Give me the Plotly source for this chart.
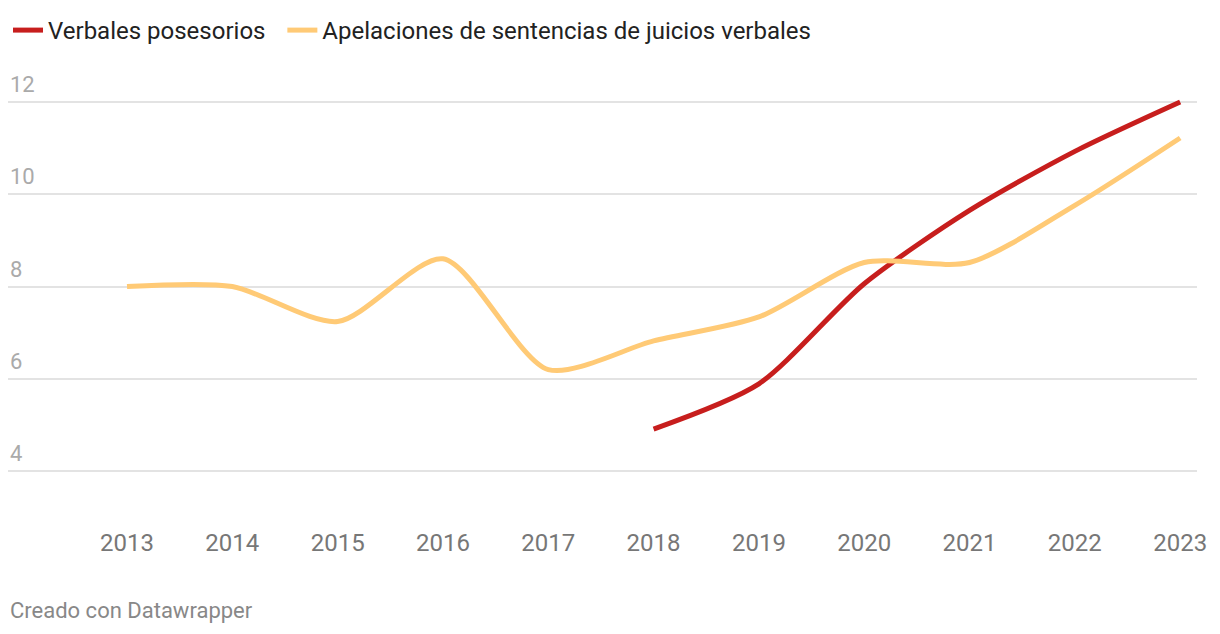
import plotly.graph_objects as go

years = [2013, 2014, 2015, 2016, 2017, 2018, 2019, 2020, 2021, 2022, 2023]
apelaciones = [8.0, 8.0, 7.24, 8.6, 6.2, 6.82, 7.34, 8.52, 8.52, 9.76, 11.22]
verbales_years = [2018, 2019, 2020, 2021, 2022, 2023]
verbales = [4.91, 5.89, 8.06, 9.65, 10.93, 12.0]
y_ticks = [4, 6, 8, 10, 12]

RED = "#c71e1d"
YELLOW = "#ffca76"
FONT = "Roboto"

W, H = 1220, 634
L, R, T, B = 0, 31, 77, 122
PW, PH = W - L - R, H - T - B

fig = go.Figure()
fig.add_trace(go.Scatter(
    x=verbales_years, y=verbales, name="Verbales posesorios\u00a0\u00a0", mode="lines",
    line=dict(color=RED, width=5, shape="spline", smoothing=0.75),
))
fig.add_trace(go.Scatter(
    x=years, y=apelaciones, name="Apelaciones de sentencias de juicios verbales", mode="lines",
    line=dict(color=YELLOW, width=5, shape="spline", smoothing=0.75),
))

for v in y_ticks:
    fig.add_annotation(
        x=0, xref="paper", xanchor="left", y=v, yref="y", yanchor="bottom",
        text=str(v), showarrow=False, xshift=0, yshift=3,
        font=dict(family=FONT, size=22, color="#aaaaaa"),
    )

fig.add_annotation(
    x=0, xref="paper", xanchor="left", y=(T + PH - 602) / PH, yref="paper",
    yanchor="middle", text="Creado con Datawrapper", showarrow=False,
    font=dict(family=FONT, size=22, color="#888888"),
)

fig.update_layout(
    width=W, height=H,
    margin=dict(l=L, r=R, t=T, b=B),
    paper_bgcolor="white", plot_bgcolor="white",
    font=dict(family=FONT, size=24, color="#222222"),
    showlegend=True,
    legend=dict(
        orientation="h", xref="container", yref="container", x=0, y=1,
        xanchor="left", yanchor="top", font=dict(family=FONT, size=24, color="#222222"),
        traceorder="normal", itemwidth=30,
    ),
    xaxis=dict(
        range=[2011.87, 2023.16], tickvals=years, ticktext=[str(y) for y in years],
        showgrid=False, zeroline=False, showline=False, ticks="",
        tickfont=dict(family=FONT, size=24, color="#777777"), ticklabelstandoff=6,
    ),
    yaxis=dict(
        range=[2.938, 12.369], tickvals=y_ticks, showticklabels=False,
        showgrid=True, gridcolor="#e3e3e3", gridwidth=2, zeroline=False, showline=False,
    ),
)

fig.write_html("out.html")
